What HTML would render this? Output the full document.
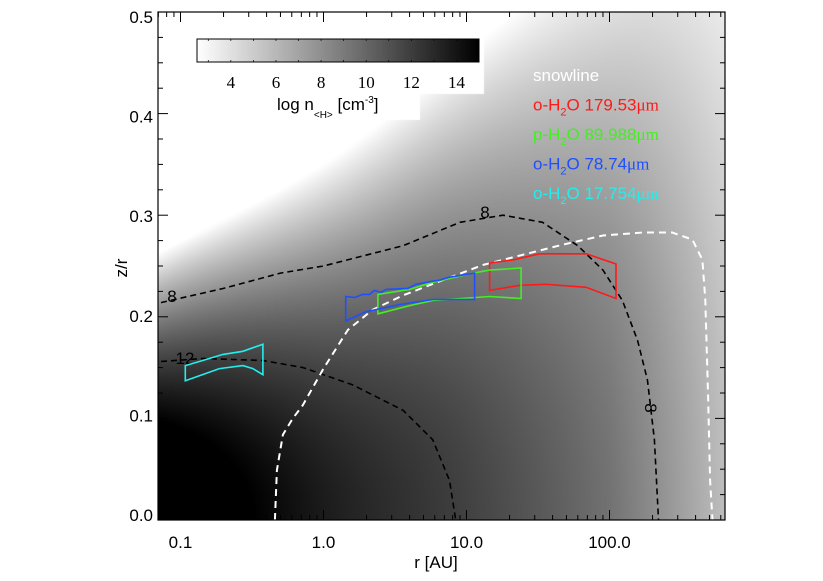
<!DOCTYPE html>
<html><head><meta charset="utf-8">
<style>
html,body{margin:0;padding:0;background:#fff;}
#wrap{position:relative;width:823px;height:581px;overflow:hidden;font-family:"Liberation Sans",sans-serif;}
canvas{position:absolute;left:0;top:0;}
svg{position:absolute;left:0;top:0;}
</style></head>
<body>
<div id="wrap">
<canvas id="bg" width="823" height="581"></canvas>
<svg id="svg" width="823" height="581" xmlns="http://www.w3.org/2000/svg"></svg>
</div>
<script>
// ---- data ----
const xTicks = [0.1, 1, 10, 100];
const xTickLabels = ["0.1", "1.0", "10.0", "100.0"];
const yTicks = [0, 0.1, 0.2, 0.3, 0.4, 0.5];
const yTickLabels = ["0.0", "0.1", "0.2", "0.3", "0.4", "0.5"];
const cbTicks = [4, 6, 8, 10, 12, 14];
// density model: midplane log n and log of vertical falloff vs log r
const modelLogR = [-2, -1, 0, 1, 2, 2.7, 3.5];
const modelN0 = [19.5, 16.5, 13.7, 11.8, 9.4, 6.2, 2.5];
const modelLogC = [2.6, 2.27, 1.96, 1.64, 1.33, 1.0, 0.6];
// contours (r [AU], z/r)
const contour8R = [0.073,0.2,0.5,1,3.6,9,18,34,60,90,123,157,184,206,220];
const contour8H = [0.214,0.228,0.243,0.25,0.27,0.293,0.30,0.293,0.27,0.246,0.216,0.177,0.138,0.079,0];
const contour12R = [0.073,0.143,0.378,0.72,1.6,3.6,5.8,7.6,8.4];
const contour12H = [0.156,0.159,0.157,0.15,0.133,0.108,0.079,0.039,0];
const snowR = [0.457,0.472,0.52,0.61,0.717,0.99,1.48,2.21,3.58,6.8,13.0,24.7,47,90,171,275,380,446,468,490,505,525];
const snowH = [0,0.049,0.084,0.100,0.113,0.148,0.187,0.207,0.221,0.236,0.251,0.261,0.271,0.280,0.283,0.283,0.276,0.256,0.217,0.118,0.039,0];
// emission regions
const redR = [14.5,21.1,32.4,68.6,111,111,68.6,36.0,23.5,14.5];
const redH = [0.253,0.256,0.262,0.262,0.252,0.218,0.229,0.232,0.231,0.226];
const greenR = [2.40,4.0,5.81,11.1,14.5,24.1,24.1,14.5,5.81,4.0,2.40];
const greenH = [0.222,0.227,0.234,0.243,0.246,0.248,0.218,0.220,0.216,0.211,0.203];
const blueR = [1.43,1.65,1.88,2.10,2.27,2.53,2.74,3.89,4.44,5.81,6.47,7.61,11.4,11.4,5.81,3.40,1.99,1.43];
const blueH = [0.220,0.219,0.222,0.222,0.226,0.224,0.227,0.228,0.232,0.235,0.236,0.239,0.243,0.217,0.217,0.212,0.205,0.196];
const cyanR = [0.108,0.143,0.198,0.273,0.377,0.377,0.321,0.273,0.187,0.108];
const cyanH = [0.152,0.157,0.163,0.166,0.173,0.143,0.149,0.152,0.149,0.137];

// ---- axes ----
const PL=158, PR=725, PT=12, PB=520;
const LX0=Math.log10(0.1), X0PX=180.5, DEC=143;
function xs(r){return X0PX+(Math.log10(r)-LX0)*DEC;}
function ys(h){return PB-h*1016;}
function invX(px){return Math.pow(10,LX0+(px-X0PX)/DEC);}
function invY(py){return (PB-py)/1016;}
const CB0=197, CB1=479, CBMIN=2.5, CBMAX=15;
function cbx(v){return CB0+(v-CBMIN)/(CBMAX-CBMIN)*(CB1-CB0);}
function grayOf(n){let g=255*(CBMAX-n)/(CBMAX-CBMIN);return Math.max(0,Math.min(255,Math.round(g)));}
function spline(X,Y,x){
  let i=1;while(i<X.length-1&&x>X[i])i++;
  const i1=i-1,i2=i,i0=Math.max(0,i1-1),i3=Math.min(X.length-1,i2+1);
  const t=Math.max(0,Math.min(1,(x-X[i1])/(X[i2]-X[i1])));
  const p0=Y[i0],p1=Y[i1],p2=Y[i2],p3=Y[i3];
  const m1=(p2-p0)/2,m2=(p3-p1)/2;
  const t2=t*t,t3=t2*t;
  return (2*t3-3*t2+1)*p1+(t3-2*t2+t)*m1+(-2*t3+3*t2)*p2+(t3-t2)*m2;
}

// background
const ctx=document.getElementById('bg').getContext('2d');
const img=ctx.createImageData(PR-PL,PB-PT);
for(let px=PL;px<PR;px++){
  const lr=Math.log10(invX(px+0.5));
  const n0=spline(modelLogR,modelN0,lr), c=Math.pow(10,spline(modelLogR,modelLogC,lr));
  for(let py=PT;py<PB;py++){
  const h=invY(py+0.5);
  const g=grayOf(n0-c*h*h);
  const i=((py-PT)*(PR-PL)+(px-PL))*4;
  img.data[i]=g;img.data[i+1]=g;img.data[i+2]=g;img.data[i+3]=255;
}}
ctx.putImageData(img,PL,PT);
// colorbar area
ctx.fillStyle='#fff';
ctx.fillRect(192,33,292,61);
ctx.fillRect(262,94,158,26);
for(let px=CB0;px<CB1;px++){const v=CBMIN+(px-CB0)/(CB1-CB0)*(CBMAX-CBMIN);const g=grayOf(v);ctx.fillStyle=`rgb(${g},${g},${g})`;ctx.fillRect(px,39,1,23);}

const svg=document.getElementById('svg');
const NS='http://www.w3.org/2000/svg';
function mk(tag,attrs,name,inter){const e=document.createElementNS(NS,tag);for(const k in attrs)e.setAttribute(k,attrs[k]);


svg.appendChild(e);return e;}
function pathOf(R,H,close){let d='';for(let i=0;i<R.length;i++){d+=(i?'L':'M')+xs(R[i]).toFixed(1)+','+ys(H[i]).toFixed(1);}return d+(close?'Z':'');}

// colorbar frame and ticks
mk('rect',{x:CB0,y:39,width:CB1-CB0,height:23,fill:'none',stroke:'#000','stroke-width':1},'colorbar-frame',false);
for(let v=3;v<=15;v++){const x=cbx(v);mk('line',{x1:x,y1:39,x2:x,y2:41,stroke:'#000','stroke-width':0.7},'colorbar-tick',false);mk('line',{x1:x,y1:62,x2:x,y2:60,stroke:'#000','stroke-width':0.7},'colorbar-tick',false);}
cbTicks.forEach(v=>{const t=mk('text',{x:cbx(v),y:88,'text-anchor':'middle','font-family':'"Liberation Serif",serif','font-size':'17'},'colorbar-tick-label',false);t.textContent=v;});
const cbt=mk('text',{x:277,y:110,'font-size':'17'},'colorbar-title',false);
cbt.innerHTML='log n<tspan dy="8" font-size="10">&lt;H&gt;</tspan><tspan dy="-8"> [cm</tspan><tspan dy="-7" font-size="10">-3</tspan><tspan dy="7">]</tspan>';

// contours
mk('path',{d:pathOf(contour8R,contour8H),fill:'none',stroke:'#000','stroke-width':1.6,'stroke-dasharray':'6,4'},'contour-8',false);
mk('path',{d:pathOf(contour12R,contour12H),fill:'none',stroke:'#000','stroke-width':1.6,'stroke-dasharray':'6,4'},'contour-12',false);
mk('path',{d:pathOf(snowR,snowH),fill:'none',stroke:'#fff','stroke-width':2,'stroke-dasharray':'7,5'},'snowline',false);
[[172,302,'8'],[485,218,'8'],[185,364,'12']].forEach(a=>{const t=mk('text',{x:a[0],y:a[1],'text-anchor':'middle','font-size':'17',fill:'#000'},'contour-label',false);t.textContent=a[2];});
const l8=mk('text',{x:0,y:0,'text-anchor':'middle','font-size':'17',transform:'translate(651,408) rotate(90) translate(0,6)'},'contour-label',false);l8.textContent='8';

// regions
mk('path',{d:pathOf(redR,redH,true),fill:'none',stroke:'#ff1a1a','stroke-width':1.6},'region-o-h2o-179',false);
mk('path',{d:pathOf(greenR,greenH,true),fill:'none',stroke:'#44ee22','stroke-width':1.6},'region-p-h2o-89',false);
mk('path',{d:pathOf(blueR,blueH,true),fill:'none',stroke:'#1f4fff','stroke-width':1.6},'region-o-h2o-78',false);
mk('path',{d:pathOf(cyanR,cyanH,true),fill:'none',stroke:'#22eeee','stroke-width':1.6},'region-o-h2o-17',false);

// legend
const leg=[['snowline','#ffffff',null],['o-H','#ff1a1a','179.53'],['p-H','#44ee22','89.988'],['o-H','#1f4fff','78.74'],['o-H','#22eeee','17.754']];
leg.forEach((l,i)=>{const t=mk('text',{x:533,y:81+i*29.5,'font-size':'17',fill:l[1]},'legend-entry',false);
 if(!l[2])t.textContent=l[0];
 else t.innerHTML=l[0]+'<tspan dy="5" font-size="11">2</tspan><tspan dy="-5">O '+l[2]+'</tspan><tspan font-family="Liberation Serif,serif">μm</tspan>';});

// frame
mk('rect',{x:PL,y:PT,width:PR-PL,height:PB-PT,fill:'none',stroke:'#000','stroke-width':1.2},'plot-frame',false);
// x ticks
for(let e=-2;e<=2;e++){for(let m=1;m<=9;m++){const v=m*Math.pow(10,e);const x=xs(v);if(x<PL||x>PR)continue;const L=m==1?10:5;
 mk('line',{x1:x,y1:PB,x2:x,y2:PB-L,stroke:'#000','stroke-width':1},'x-tick',false);
 mk('line',{x1:x,y1:PT,x2:x,y2:PT+L,stroke:'#000','stroke-width':1},'x-tick',false);}}
xTicks.forEach((v,i)=>{const t=mk('text',{x:xs(v),y:548,'text-anchor':'middle','font-size':'17'},'x-tick-label',false);t.textContent=xTickLabels[i];});
// y ticks
for(let k=0;k<=20;k++){const v=k*0.025;const y=ys(v);const L=(k%4==0)?10:5;
 mk('line',{x1:PL,y1:y,x2:PL+L,y2:y,stroke:'#000','stroke-width':1},'y-tick',false);
 mk('line',{x1:PR,y1:y,x2:PR-L,y2:y,stroke:'#000','stroke-width':1},'y-tick',false);}
yTicks.forEach((v,i)=>{const t=mk('text',{x:153,y:520-5-v*996+6,'text-anchor':'end','font-size':'17'},'y-tick-label',false);t.textContent=yTickLabels[i];});
const xt=mk('text',{x:436,y:568,'text-anchor':'middle','font-size':'17'},'x-axis-title',false);xt.textContent='r [AU]';
const yt=mk('text',{x:0,y:0,'text-anchor':'middle','font-size':'17',transform:'translate(127,268) rotate(-90)'},'y-axis-title',false);yt.textContent='z/r';
</script>
</body></html>
